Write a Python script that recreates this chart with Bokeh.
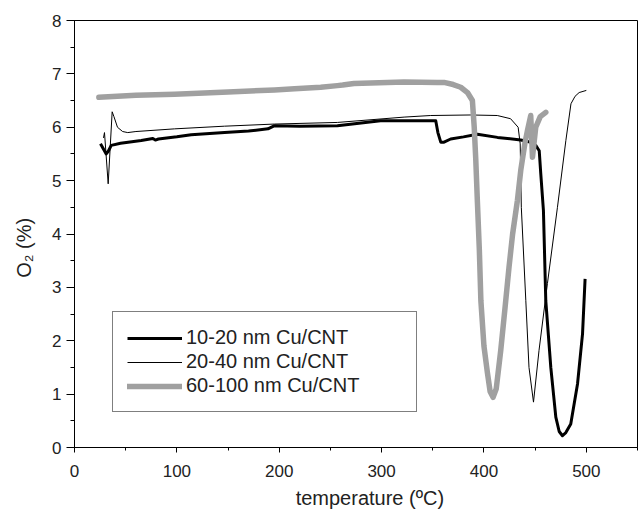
from bokeh.plotting import figure
from bokeh.models import Range1d, SingleIntervalTicker, Legend, LegendItem
from bokeh.embed import file_html
from bokeh.resources import INLINE

# 10-20 nm Cu/CNT (thick black)
t_10_20 = [25.4, 28, 31, 33, 35.9, 45, 65.2, 76.5, 79, 82, 100, 114, 146.6, 170, 189, 195.5,
           220, 256.8, 280, 299, 330, 352.9, 355, 357.8, 361, 367.5, 380, 393.6, 413.2, 436,
           446, 450.6, 454, 455.5, 458.1, 460.4, 465.3, 470.2, 473.5, 476.7, 480, 484.8,
           491.4, 496.3, 498.8]
o2_10_20 = [5.69, 5.6, 5.5, 5.55, 5.66, 5.7, 5.75, 5.79, 5.76, 5.78, 5.82, 5.86, 5.9, 5.93,
            5.97, 6.03, 6.02, 6.03, 6.08, 6.12, 6.12, 6.12, 5.9, 5.72, 5.72, 5.78, 5.82, 5.87,
            5.81, 5.76, 5.72, 5.66, 5.56, 5.13, 4.44, 2.75, 1.5, 0.57, 0.3, 0.22, 0.28, 0.44,
            1.19, 2.13, 3.16]

# 20-40 nm Cu/CNT (thin black)
t_20_40 = [28.3, 29.3, 32.9, 36.8, 38.5, 42, 47, 52, 60, 97.8, 146.6, 195.5, 256.8, 322, 348,
           387, 413, 426, 433.4, 435.4, 436.5, 440.9, 444, 448.4, 453.8, 462, 471.8, 480, 485,
           489, 493, 500]
o2_20_40 = [5.8, 5.9, 4.94, 6.29, 6.2, 6.0, 5.92, 5.9, 5.92, 5.97, 6.02, 6.06, 6.09, 6.19,
            6.22, 6.23, 6.22, 6.16, 6.0, 5.69, 4.5, 2.75, 1.5, 0.85, 1.82, 3.07, 4.5, 5.75,
            6.44, 6.58, 6.65, 6.69]

# 60-100 nm Cu/CNT (thick gray)
t_60_100 = [23.8, 60, 97.8, 150, 195.5, 215, 240.5, 256.8, 262, 273, 322, 354.5, 361, 370,
            377.3, 383.9, 388.7, 390.5, 392, 393.6, 395.5, 397, 400, 403.4, 406, 408.9, 412,
            416.4, 420.5, 424.5, 428, 432.7, 436, 440, 442.5, 445.7, 447.4, 450.6, 455, 460.4]
o2_60_100 = [6.56, 6.6, 6.62, 6.66, 6.70, 6.72, 6.75, 6.78, 6.79, 6.82, 6.85, 6.84, 6.84, 6.8,
             6.75, 6.65, 6.5, 6.0, 5.4, 4.6, 3.7, 2.75, 1.9, 1.4, 1.05, 0.94, 1.1, 1.82, 2.6,
             3.38, 4.0, 4.63, 5.2, 5.7, 5.94, 6.22, 5.44, 6.0, 6.2, 6.28]

labels = ["10-20 nm Cu/CNT", "20-40 nm Cu/CNT", "60-100 nm Cu/CNT"]

FONT = "Liberation Sans"
TXT = "#222222"

p = figure(width=639, height=511, output_backend="svg", toolbar_location=None,
           x_range=Range1d(0, 550), y_range=Range1d(0, 8),
           min_border_left=74, min_border_right=2, min_border_top=20, min_border_bottom=64)
p.background_fill_color = "white"
p.border_fill_color = "white"
p.outline_line_color = "black"
p.outline_line_width = 1
p.xgrid.visible = False
p.ygrid.visible = False

p.xaxis.ticker = SingleIntervalTicker(interval=100, num_minor_ticks=2)
p.yaxis.ticker = SingleIntervalTicker(interval=1, num_minor_ticks=2)
for ax in (p.xaxis[0], p.yaxis[0]):
    ax.axis_line_color = "black"
    ax.major_tick_line_color = "black"
    ax.minor_tick_line_color = "black"
    ax.major_tick_in = 0
    ax.minor_tick_in = 0
    ax.major_label_text_font = FONT
    ax.major_label_text_font_size = "17px"
    ax.major_label_text_color = TXT
    ax.axis_label_text_font = FONT
    ax.axis_label_text_font_size = "20px"
    ax.axis_label_text_font_style = "normal"
    ax.axis_label_text_color = TXT
p.xaxis.major_tick_out = 5
p.xaxis.minor_tick_out = 3
p.yaxis.major_tick_out = 8
p.yaxis.minor_tick_out = 4
p.xaxis.major_label_standoff = 12
p.yaxis.major_label_standoff = 5
p.xaxis.axis_label = "\u00a0\u00a0\u00a0\u00a0\u00a0temperature (ºC)"
p.yaxis.axis_label = "O₂ (%)\u00a0\u00a0\u00a0\u00a0\u00a0"
p.xaxis.axis_label_standoff = 7
p.yaxis.axis_label_standoff = 14

r1 = p.line(t_10_20, o2_10_20, line_color="black", line_width=3, line_join="round")
r2 = p.line(t_20_40, o2_20_40, line_color="black", line_width=1, line_join="round")
r3 = p.line(t_60_100, o2_60_100, line_color="#a0a0a0", line_width=5.5,
            line_join="round", line_cap="round")

legend = Legend(items=[LegendItem(label=labels[0], renderers=[r1]),
                       LegendItem(label=labels[1], renderers=[r2]),
                       LegendItem(label=labels[2], renderers=[r3])],
                location=(38, 35))
legend.border_line_color = "black"
legend.border_line_width = 1
legend.background_fill_color = "white"
legend.background_fill_alpha = 1
legend.label_text_font = FONT
legend.label_text_font_size = "20px"
legend.label_text_color = TXT
legend.glyph_width = 55
legend.glyph_height = 20
legend.label_height = 20
legend.label_width = 216
legend.label_standoff = 4
legend.spacing = 1
legend.padding = 14
legend.margin = 0
p.add_layout(legend, "center")

open("out.html", "w").write(file_html(p, INLINE))
